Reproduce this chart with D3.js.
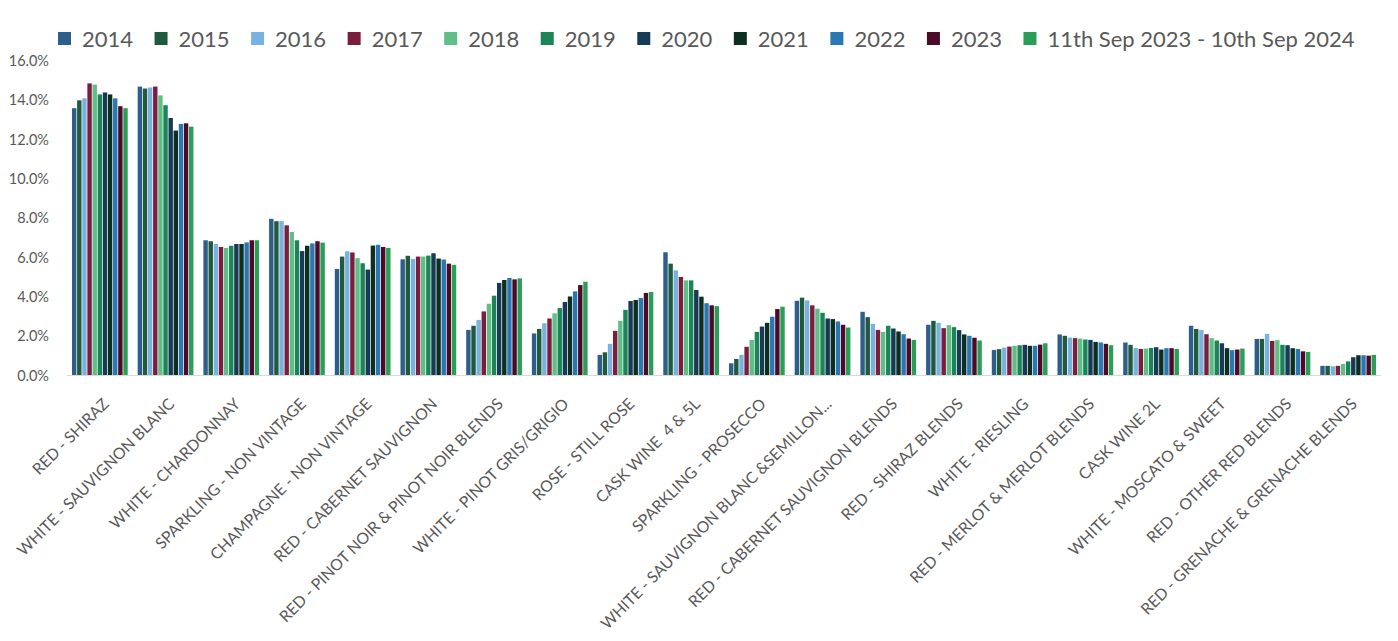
<!DOCTYPE html>
<html>
<head>
<meta charset="utf-8">
<script src="https://cdn.jsdelivr.net/npm/d3@7"></script>
<style>
  body { margin: 0; background: #fff; }
  text { font-family: Lato, "Open Sans", sans-serif; fill: #595959; }
</style>
</head>
<body>
<div id="chart"></div>
<script>
// wine category share by year
const categories = [
  "RED - SHIRAZ", "WHITE - SAUVIGNON BLANC", "WHITE - CHARDONNAY",
  "SPARKLING - NON VINTAGE", "CHAMPAGNE - NON VINTAGE", "RED - CABERNET SAUVIGNON",
  "RED - PINOT NOIR & PINOT NOIR BLENDS", "WHITE - PINOT GRIS/GRIGIO", "ROSE - STILL ROSE",
  "CASK WINE  4 & 5L", "SPARKLING - PROSECCO", "WHITE - SAUVIGNON BLANC &SEMILLON...",
  "RED - CABERNET SAUVIGNON BLENDS", "RED - SHIRAZ BLENDS", "WHITE - RIESLING",
  "RED - MERLOT & MERLOT BLENDS", "CASK WINE 2L", "WHITE - MOSCATO & SWEET",
  "RED - OTHER RED BLENDS", "RED - GRENACHE & GRENACHE BLENDS"
];

const seriesNames = ["2014", "2015", "2016", "2017", "2018", "2019", "2020",
  "2021", "2022", "2023", "11th Sep 2023 - 10th Sep 2024"];

const seriesColors = ["#2e5f8a", "#1f5a3e", "#79b2de", "#7b1e3e", "#5fbf87", "#1b8558",
  "#173a57", "#0c2f21", "#2a78b3", "#4b0a27", "#2a9d56"];

// one array per series, values in % (same order as categories)
const v2014 = [13.6, 14.7, 6.88, 7.97, 5.42, 5.91, 2.32, 2.14, 1.05, 6.27, 0.62, 3.80, 3.24, 2.58, 1.30, 2.09, 1.68, 2.53, 1.86, 0.49];
const v2015 = [14.0, 14.6, 6.83, 7.85, 6.05, 6.09, 2.53, 2.37, 1.18, 5.69, 0.84, 3.96, 2.97, 2.78, 1.34, 2.02, 1.56, 2.37, 1.86, 0.49];
const v2016 = [14.1, 14.65, 6.69, 7.85, 6.32, 5.93, 2.83, 2.66, 1.61, 5.35, 1.05, 3.82, 2.63, 2.68, 1.42, 1.93, 1.40, 2.31, 2.12, 0.47];
const v2017 = [14.86, 14.7, 6.54, 7.64, 6.26, 6.05, 3.26, 2.90, 2.27, 5.01, 1.46, 3.57, 2.32, 2.41, 1.47, 1.90, 1.35, 2.10, 1.76, 0.49];
const v2018 = [14.8, 14.25, 6.49, 7.30, 5.97, 6.05, 3.65, 3.16, 2.78, 4.84, 1.81, 3.40, 2.22, 2.56, 1.51, 1.88, 1.37, 1.90, 1.80, 0.59];
const v2019 = [14.3, 13.75, 6.60, 6.88, 5.71, 6.10, 4.06, 3.43, 3.34, 4.84, 2.22, 3.19, 2.53, 2.46, 1.54, 1.83, 1.40, 1.78, 1.56, 0.72];
const v2020 = [14.4, 13.1, 6.69, 6.33, 5.39, 6.22, 4.71, 3.74, 3.79, 4.35, 2.49, 2.90, 2.39, 2.31, 1.56, 1.81, 1.44, 1.64, 1.54, 0.93];
const v2021 = [14.3, 12.46, 6.69, 6.60, 6.61, 5.95, 4.86, 4.02, 3.84, 4.01, 2.68, 2.87, 2.24, 2.09, 1.51, 1.71, 1.32, 1.39, 1.39, 1.03];
const v2022 = [14.1, 12.8, 6.77, 6.72, 6.65, 5.90, 4.96, 4.28, 3.94, 3.68, 2.99, 2.75, 2.10, 2.02, 1.51, 1.68, 1.39, 1.29, 1.35, 1.03];
const v2023 = [13.7, 12.83, 6.88, 6.83, 6.54, 5.69, 4.89, 4.60, 4.20, 3.57, 3.38, 2.58, 1.88, 1.92, 1.57, 1.61, 1.39, 1.32, 1.23, 1.01];
const v2024 = [13.6, 12.66, 6.88, 6.76, 6.49, 5.63, 4.94, 4.77, 4.25, 3.53, 3.50, 2.44, 1.81, 1.78, 1.64, 1.54, 1.35, 1.37, 1.20, 1.05];

const seriesValues = [v2014, v2015, v2016, v2017, v2018, v2019, v2020, v2021, v2022, v2023, v2024];

const yTicks = [0, 2, 4, 6, 8, 10, 12, 14, 16];

const width = 1398, height = 641;
const plotLeft = 67, plotRight = 1381, plotTop = 61, plotBottom = 375.5;

const svg = d3.select("#chart").append("svg")
  .attr("width", width)
  .attr("height", height);

const x0 = d3.scaleBand()
  .domain(categories)
  .range([plotLeft, plotRight])
  .paddingInner(0.13)
  .paddingOuter(0.065);

const x1 = d3.scaleBand()
  .domain(d3.range(seriesNames.length))
  .range([0, x0.bandwidth()])
  .padding(0.14);

const y = d3.scaleLinear()
  .domain([0, 16])
  .range([plotBottom, plotTop]);

// bars
const groups = svg.append("g")
  .selectAll("g")
  .data(categories)
  .join("g")
  .attr("transform", d => `translate(${x0(d)},0)`);

groups.selectAll("rect")
  .data((d, ci) => seriesValues.map((vals, si) => ({ si, value: vals[ci] })))
  .join("rect")
  .attr("x", d => x1(d.si))
  .attr("width", x1.bandwidth())
  .attr("y", d => y(d.value))
  .attr("height", d => y(0) - y(d.value))
  .attr("fill", d => seriesColors[d.si]);

// y axis labels (no line, no grid)
const yAxis = svg.append("g")
  .attr("transform", `translate(${plotLeft - 18},0)`)
  .call(d3.axisLeft(y).tickValues(yTicks).tickSize(0).tickPadding(0)
    .tickFormat(d => d.toFixed(1) + "%"));
yAxis.select(".domain").remove();
yAxis.selectAll("text")
  .style("font-size", "14.5px")
  .attr("fill", "#595959");

// category axis line
svg.append("line")
  .attr("x1", plotLeft).attr("x2", plotRight)
  .attr("y1", plotBottom).attr("y2", plotBottom)
  .attr("stroke", "#d9d9d9")
  .attr("stroke-width", 1);

// category labels rotated 45deg
svg.append("g")
  .selectAll("text")
  .data(categories)
  .join("text")
  .attr("transform", d => `translate(${x0(d) + x0.bandwidth() / 2 + 10},405) rotate(-45)`)
  .attr("text-anchor", "end")
  .style("font-size", "15.8px")
  .style("white-space", "pre")
  .text(d => d);

// legend
const legend = svg.append("g").attr("transform", "translate(58,0)");
let lx = 0;
seriesNames.forEach((name, i) => {
  const item = legend.append("g").attr("transform", `translate(${lx},0)`);
  item.append("rect")
    .attr("x", 0).attr("y", 32)
    .attr("width", 13).attr("height", 13)
    .attr("fill", seriesColors[i]);
  const t = item.append("text")
    .attr("x", 24).attr("y", 46.5)
    .style("font-size", "22px")
    .text(name);
  lx += 24 + t.node().getComputedTextLength() + 21.5;
});
</script>
</body>
</html>
